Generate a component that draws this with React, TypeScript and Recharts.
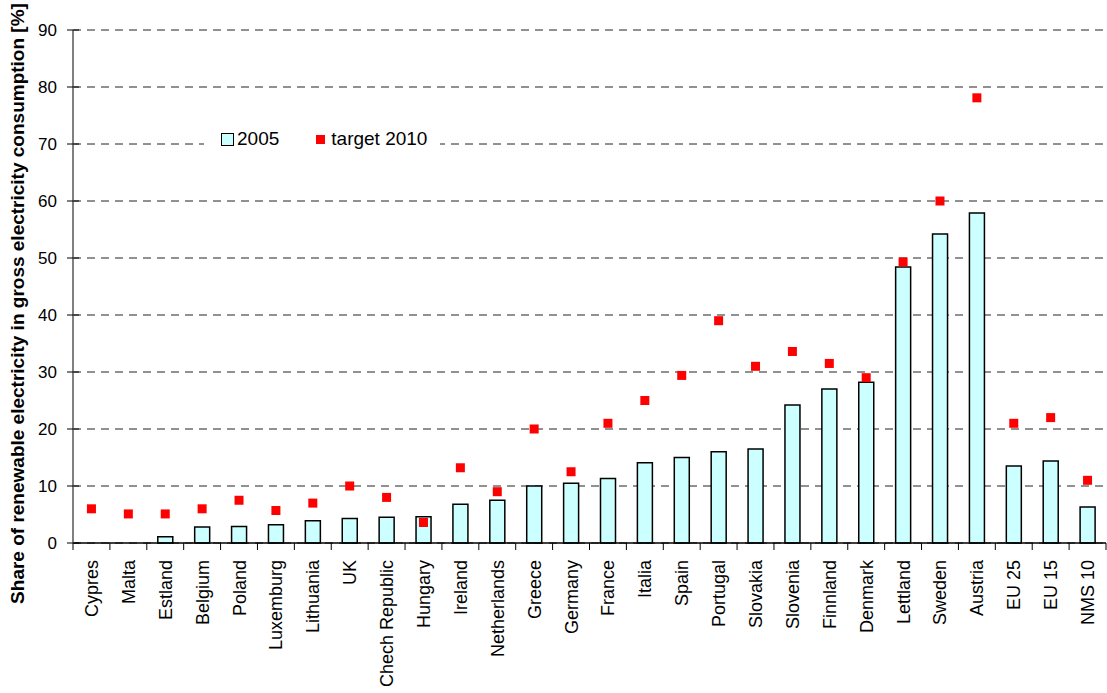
import React from "react";
import {
  ComposedChart,
  Bar,
  Scatter,
  XAxis,
  YAxis,
  CartesianGrid,
} from "recharts";

const countries = [
  "Cypres", "Malta", "Estland", "Belgium", "Poland", "Luxemburg", "Lithuania",
  "UK", "Chech Republic", "Hungary", "Ireland", "Netherlands", "Greece",
  "Germany", "France", "Italia", "Spain", "Portugal", "Slovakia", "Slovenia",
  "Finnland", "Denmark", "Lettland", "Sweden", "Austria", "EU 25", "EU 15",
  "NMS 10",
];

const share2005 = [
  0, 0, 1.1, 2.8, 2.9, 3.2, 3.9, 4.3, 4.5, 4.6, 6.8, 7.5, 10.0, 10.5, 11.3,
  14.1, 15.0, 16.0, 16.5, 24.2, 27.0, 28.2, 48.4, 54.2, 57.9, 13.5, 14.4, 6.3,
];

const target2010 = [
  6.0, 5.1, 5.1, 6.0, 7.5, 5.7, 7.0, 10.0, 8.0, 3.6, 13.2, 9.0, 20.0, 12.5,
  21.0, 25.0, 29.4, 39.0, 31.0, 33.6, 31.5, 29.0, 49.3, 60.0, 78.1, 21.0, 22.0,
  11.0,
];

const yTicks = [0, 10, 20, 30, 40, 50, 60, 70, 80, 90];

const seriesNames = ["2005", "target 2010"];

const data = countries.map((name, i) => ({
  name,
  share: share2005[i],
  target: target2010[i],
}));

const FONT = "'Liberation Sans', Arial, sans-serif";
const WIDTH = 1107;
const HEIGHT = 693;
const PLOT_LEFT = 73;
const PLOT_RIGHT = 1;
const X_AXIS_HEIGHT = 150;
const BAND = (WIDTH - PLOT_LEFT - PLOT_RIGHT) / countries.length;

const CategoryTick = (props: any) => {
  const { x, y, payload, index } = props;
  const left = x - BAND / 2;
  const right = x + BAND / 2;
  return (
    <g>
      <line x1={left} y1={y - 8} x2={left} y2={y - 1} stroke="#000" strokeWidth={1} />
      {index === countries.length - 1 && (
        <line x1={right} y1={y - 8} x2={right} y2={y - 1} stroke="#000" strokeWidth={1} />
      )}
      <text
        x={0}
        y={0}
        transform={`translate(${x + 6.5}, ${y + 9}) rotate(-90)`}
        textAnchor="end"
        fontFamily={FONT}
        fontSize={18}
        fill="#000"
      >
        {payload.value}
      </text>
    </g>
  );
};

const YTick = (props: any) => {
  const { x, y, payload } = props;
  return (
    <g>
      <line x1={PLOT_LEFT - 6} y1={y} x2={PLOT_LEFT + 6} y2={y} stroke="#000" strokeWidth={1} />
      <text
        x={x - 8}
        y={y}
        dy={6}
        textAnchor="end"
        fontFamily={FONT}
        fontSize={17}
        fill="#000"
      >
        {payload.value}
      </text>
    </g>
  );
};

const TargetMarker = (props: any) => {
  const { cx, cy } = props;
  if (cx == null || cy == null) return null;
  return <rect x={cx - 4.5} y={cy - 4.5} width={9} height={9} fill="#FF0000" />;
};

const LegendBox = () => (
  <div
    style={{
      position: "absolute",
      left: 204,
      top: 127,
      width: 236,
      height: 24,
      background: "#fff",
      display: "flex",
      alignItems: "center",
      paddingLeft: 17,
      boxSizing: "border-box",
      fontFamily: FONT,
      fontSize: 19,
      color: "#000",
    }}
  >
    <span
      style={{
        display: "inline-block",
        width: 11,
        height: 11,
        background: "#CCFFFF",
        border: "1px solid #000",
        marginRight: 3,
      }}
    />
    <span style={{ marginRight: 37 }}>{seriesNames[0]}</span>
    <span
      style={{
        display: "inline-block",
        width: 9,
        height: 9,
        background: "#FF0000",
        marginRight: 6,
      }}
    />
    <span>{seriesNames[1]}</span>
  </div>
);

export default function App() {
  return (
    <div style={{ position: "absolute", left: 0, top: 0, background: "#fff" }}>
      <ComposedChart
        width={WIDTH}
        height={HEIGHT}
        data={data}
        margin={{ top: 30, right: PLOT_RIGHT, bottom: 0, left: 0 }}
        barCategoryGap={0}
      >
        <CartesianGrid
          vertical={false}
          horizontal
          stroke="#222"
          strokeDasharray="8 6"
          strokeWidth={1}
        />
        <XAxis
          dataKey="name"
          interval={0}
          tickLine={false}
          axisLine={{ stroke: "#000", strokeWidth: 1.5 }}
          tick={<CategoryTick />}
          height={X_AXIS_HEIGHT}
        />
        <YAxis
          domain={[0, 90]}
          ticks={yTicks}
          interval={0}
          width={PLOT_LEFT}
          axisLine={{ stroke: "#808080", strokeWidth: 2 }}
          tickLine={false}
          tickSize={6}
          tick={<YTick />}
          label={{
            value: "Share of renewable electricity in gross electricity consumption [%]",
            angle: -90,
            position: "insideLeft",
            dx: 12,
            dy: 17,
            style: {
              fontFamily: FONT,
              fontSize: 19,
              fontWeight: "bold",
              fill: "#000",
              textAnchor: "middle",
            },
          }}
        />
        <Bar
          dataKey="share"
          name={seriesNames[0]}
          fill="#CCFFFF"
          stroke="#000"
          strokeWidth={1.5}
          barSize={15}
          isAnimationActive={false}
        />
        <Scatter
          dataKey="target"
          name={seriesNames[1]}
          fill="#FF0000"
          shape={<TargetMarker />}
          isAnimationActive={false}
        />
      </ComposedChart>
      <LegendBox />
    </div>
  );
}
